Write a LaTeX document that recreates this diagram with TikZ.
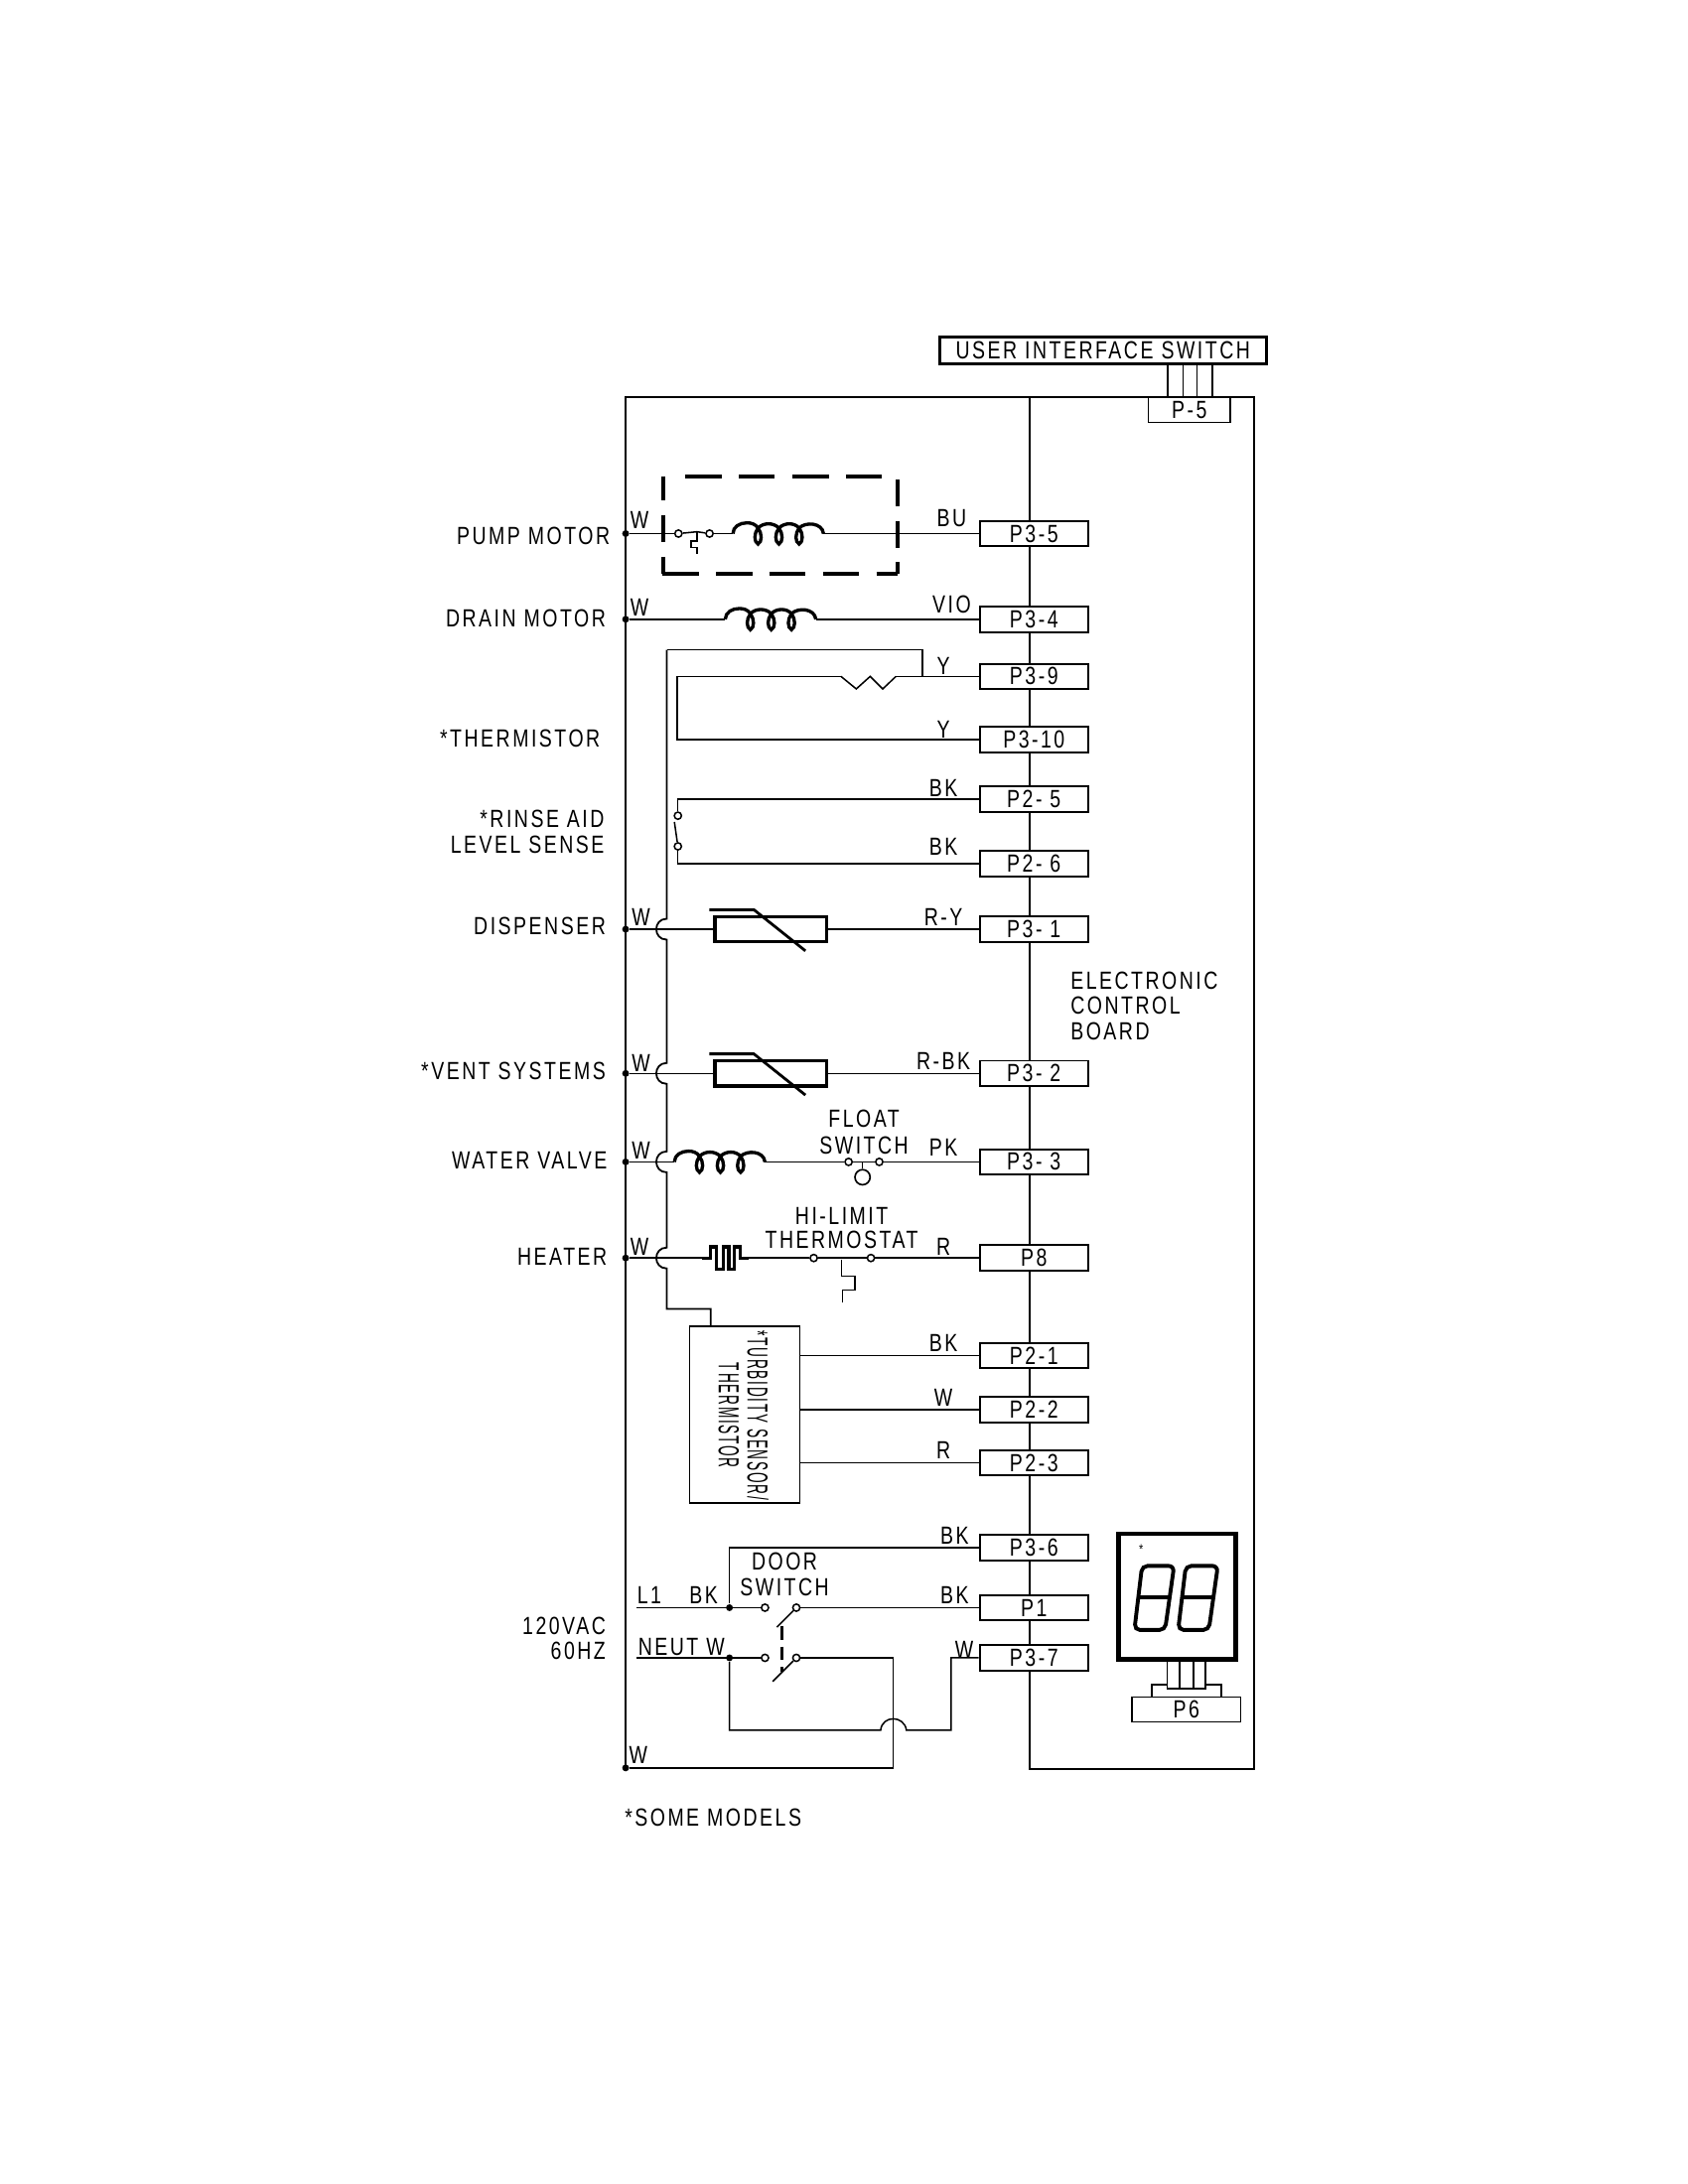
\documentclass[tikz,border=0pt]{standalone}
\usepackage{fontspec}
\setmainfont[FakeStretch=0.78,LetterSpace=10]{Liberation Sans}
\tikzset{
    wire/.style={line width=0.55pt},
    heavy/.style={line width=1.2pt},
    pinbox/.style={draw, fill=white, line width=0.7pt, minimum width=39.4pt, minimum height=9.2pt, inner sep=0pt, font=\fontsize{9}{9}\selectfont},
    lbl/.style={inner sep=0pt, font=\fontsize{9}{9}\selectfont},
    dot/.style={circle, fill, inner sep=0pt, minimum size=2.5pt},
    contact/.style={circle, draw, fill=white, inner sep=0pt, minimum size=2.6pt, line width=0.55pt},
    coil/.pic={
        \draw[heavy] (0,0) .. controls (0,-5) and (5,-7.7) .. (10,-7.7) .. controls (13,-7.7) and (16,-7) .. (18,-4)
            .. controls (15,0) and (15,6) .. (18,7.5) .. controls (21,6) and (21,0) .. (18,-4)
            .. controls (22,-8) and (29,-8) .. (33,-4)
            .. controls (30,0) and (30,6) .. (33,7.5) .. controls (36,6) and (36,0) .. (33,-4)
            .. controls (37,-8) and (44,-8) .. (47.5,-4)
            .. controls (44.5,0) and (44.5,6) .. (47.5,7.5) .. controls (50.5,6) and (50.5,0) .. (47.5,-4)
            .. controls (52,-8.5) and (64,-8) .. (65,0);
    },
    ptc/.pic={
        \draw[line width=1.2pt] (0,-9) rectangle (80,9);
        \draw[line width=1pt] (-4,-14) -- (28,-14) -- (65,15.5);
    },
    segdigit/.pic={
        \draw[line width=1.4pt, rounded corners=2] (6,0) -- (29,0) -- (22.5,46) -- (0.5,46) -- cycle;
        \draw[line width=1.4pt] (3,22.6) -- (26,22.6);
    }
}
\begin{document}
\begin{tikzpicture}[x=0.5052pt, y=-0.5052pt]
    \useasboundingbox (0,0) rectangle (1211.4,1567.7);

    % frame and board
    \draw[wire] (449,1269) -- (449,285) -- (739,285);
    \draw[line width=0.8pt] (739,285) -- (900,285) -- (900,1270) -- (739,1270) -- cycle;

    \node[draw, line width=1pt, minimum width=118.5pt, minimum height=9.6pt, inner sep=0pt, font=\fontsize{9}{9}\selectfont] (ui) at (791.5,251.5) {USER INTERFACE SWITCH};
    \node[draw, fill=white, line width=0.6pt, minimum width=29.8pt, minimum height=9.2pt, inner sep=0pt, font=\fontsize{9}{9}\selectfont] (p5) at (853.5,294) {P-5};
    \foreach \x in {838,849,859,870} \draw[wire] (\x,261) -- (\x,285);

    \foreach \name/\txt/\y in {p35/P3-5/383,p34/P3-4/444.5,p39/P3-9/485.5,p310/P3-10/531,p25/P2- 5/573.5,p26/P2- 6/620,p31/P3- 1/667,p32/P3- 2/770.5,p33/P3- 3/834,p8/P8/903,p21/P2-1/973,p22/P2-2/1012,p23/P2-3/1050,p36/P3-6/1111,p1/P1/1154,p37/P3-7/1190}
        \node[pinbox] (\name) at (742,\y) {\txt};

    \foreach \name/\y in {pump/383,drain/444.5,disp/667,vent/770.5,water/834,heat/903,ret/1269}
        \node[dot] (\name) at (449,\y) {};

    % pump motor
    \foreach \a/\b in {491.5/518,530.5/556,568.5/595,607/633} \draw[line width=1.5pt] (\a,342) -- (\b,342);
    \foreach \a/\b in {475.6/502,514/540,552/578,591/616.5,629/644.5} \draw[line width=1.5pt] (\a,412) -- (\b,412);
    \foreach \a/\b in {342/359,370/389,399.7/412} \draw[line width=1.5pt] (476,\a) -- (476,\b);
    \foreach \a/\b in {344/363.5,374/393,403.5/412} \draw[line width=1.5pt] (644,\a) -- (644,\b);
    \node[contact] (pumpa) at (486.9,383) {};
    \node[contact] (pumpb) at (509.2,383) {};
    \coordinate (pumpc) at (526,383);
    \coordinate (pumpd) at (591,383);
    \draw[wire] (pump) -- (pumpa);
    \draw[wire] (pumpa) -- (500.2,381.7) -- (pumpb);
    \draw[wire] (pumpb) -- (pumpc);
    \draw[wire] (pumpd) -- (p35);
    \pic at (pumpc) {coil};
    \draw[wire] (500.2,381.7) -- (500.2,388.3) -- (495.9,388.3) -- (495.9,393) -- (500.2,393) -- (500.2,397.8);

    % drain motor
    \coordinate (draina) at (520.5,444.5);
    \coordinate (drainb) at (585.5,444.5);
    \draw[wire] (drain) -- (draina);
    \draw[wire] (drainb) -- (p34);
    \pic at (draina) {coil};

    % thermistor
    \coordinate (tha) at (603.5,485.5);
    \coordinate (thb) at (643,485.5);
    \coordinate (thc) at (662,485.5);
    \draw[wire] (tha) -- ++(11,9) -- ++(10,-9) -- ++(9,9) -- (thb);
    \draw[wire] (thb) -- (p39);
    \draw[wire] (tha) -- (486,485.5) -- (486,531) -- (p310);
    \draw[wire] (thc) -- (662,466.5) -- (478.5,466.5);

    % rail
    \draw[line width=0.65pt] (478.5,466.5) -- (478.5,659.5) .. controls (468.5,659.5) and (468.5,674.5) .. (478.5,674.5)
        -- (478.5,763) .. controls (468.5,763) and (468.5,778) .. (478.5,778)
        -- (478.5,826.5) .. controls (468.5,826.5) and (468.5,841.5) .. (478.5,841.5)
        -- (478.5,895.5) .. controls (468.5,895.5) and (468.5,910.5) .. (478.5,910.5)
        -- (478.5,939.5) -- (510,939.5) -- (510,952);

    % rinse aid
    \node[contact] (rinsea) at (486.5,585.5) {};
    \node[contact] (rinseb) at (486.5,607.5) {};
    \draw[wire] (p25) -- (486.5,573.5) -- (rinsea);
    \draw[wire] (484,590) -- (rinseb);
    \draw[wire] (rinseb) -- (486.5,620) -- (p26);

    % dispenser and vent
    \coordinate (dispa) at (513,667);
    \coordinate (venta) at (513,770.5);
    \draw[wire] (disp) -- (dispa);
    \draw[wire] (vent) -- (venta);
    \draw[wire] (593,667) -- (p31);
    \draw[wire] (593,770.5) -- (p32);
    \pic at (dispa) {ptc};
    \pic at (venta) {ptc};

    % water valve
    \coordinate (watera) at (484,834);
    \coordinate (waterb) at (549,834);
    \node[contact] (floata) at (609,834) {};
    \node[contact] (floatb) at (631,834) {};
    \node[circle, draw, line width=0.6pt, inner sep=0pt, minimum size=5.5pt] (floatc) at (619,845) {};
    \draw[wire] (water) -- (watera);
    \draw[wire] (waterb) -- (floata);
    \draw[wire] (floata) -- (floatb);
    \draw[wire] (floatb) -- (p33);
    \draw[wire] (619,834) -- (floatc);
    \pic at (watera) {coil};

    % heater
    \coordinate (heata) at (504,903);
    \coordinate (heatb) at (537,903);
    \node[contact] (hilima) at (584,903) {};
    \node[contact] (hilimb) at (625,903) {};
    \draw[wire] (heat) -- (heata);
    \draw[heavy] (heata) -- (510,903) -- (510,895) -- (514,895) -- (514,911) -- (519,911) -- (519,895) -- (523,895) -- (523,911) -- (527,911) -- (527,895) -- (531,895) -- (531,903) -- (heatb);
    \draw[wire] (heatb) -- (hilima);
    \draw[wire] (hilima) -- (hilimb);
    \draw[wire] (hilimb) -- (p8);
    \draw[wire] (604,904) -- (604,916) -- (613.5,916) -- (613.5,926) -- (604.5,926) -- (604.5,935);

    % turbidity
    \node[draw, line width=0.6pt, minimum width=40pt, minimum height=64.2pt, inner sep=0pt] (turb) at (534.5,1015.5) {};
    \draw[wire] (turb.east |- p21) -- (p21);
    \draw[wire] (turb.east |- p22) -- (p22);
    \draw[wire] (turb.east |- p23) -- (p23);
    \node[inner sep=0pt, rotate=-90, font=\fontsize{10.5}{10.5}\selectfont] (turbt) at (544,1016) {\scalebox{0.6}[1]{*TURBIDITY SENSOR/}};
    \node[inner sep=0pt, rotate=-90, font=\fontsize{10.5}{10.5}\selectfont] (turbu) at (523,1016) {\scalebox{0.6}[1]{THERMISTOR}};

    % door switch
    \node[dot] (linea) at (523.5,1154) {};
    \node[dot] (neuta) at (523.5,1190) {};
    \node[contact] (doora) at (549,1154) {};
    \node[contact] (doorb) at (571.5,1154) {};
    \node[contact] (doorc) at (549,1190) {};
    \node[contact] (doord) at (571.5,1190) {};
    \coordinate (lone) at (457,1154);
    \coordinate (ntwo) at (457,1190);
    \draw[wire] (lone) -- (doora);
    \draw[wire] (ntwo) -- (doorc);
    \draw[wire] (linea) -- (523.5,1111) -- (p36);
    \draw[wire] (doorb) -- (p1);
    \draw[wire] (doorb) -- ++(-14,14);
    \draw[wire] (doord) -- ++(-17,17);
    \draw[line width=1.2pt, dash pattern=on 5pt off 2.5pt] (561,1167) -- (561,1200);
    \draw[wire] (neuta) -- (523.5,1242) -- (632,1242) .. controls (633,1231) and (649,1231) .. (650.5,1242) -- (682.5,1242) -- (682.5,1190) -- (p37);
    \draw[wire] (doord) -- (641,1190) -- (641,1269) -- (ret);

    % display
    \node[draw, line width=1.7pt, minimum width=42.5pt, minimum height=45.5pt, inner sep=0pt] (disptop) at (844.7,1146) {};
    \node[inner sep=0pt, font=\fontsize{5}{5}\selectfont] (dispstar) at (819,1112) {*};
    \pic at (813.6,1124) {segdigit};
    \pic at (845,1124) {segdigit};
    \node[draw, fill=white, line width=0.6pt, minimum width=39.4pt, minimum height=9pt, inner sep=0pt, font=\fontsize{9}{9}\selectfont] (p6) at (851.4,1227) {P6};
    \draw[line width=0.8pt] (826.6,1218) -- (826.6,1209) -- (876.6,1209) -- (876.6,1218);
    \draw[fill=white, wire] (837.8,1192) rectangle (865,1212);
    \foreach \x in {846.8,856.3} \draw[line width=0.8pt] (\x,1192) -- (\x,1212);

    % left labels
    \foreach \y/\txt/\x in {385/PUMP MOTOR/438,444/DRAIN MOTOR/435,530/*THERMISTOR/431,588/*RINSE AID/434,606/LEVEL SENSE/434,665/DISPENSER/435,769/*VENT SYSTEMS/435,833/WATER VALVE/436,902/HEATER/436,1167/120VAC/435,1185/60HZ/435}
        \node[lbl, anchor=east] at (\x,\y) {\txt};

    % wire colours
    \foreach \x/\y/\txt in {459/373/W,459/436/W,460/658/W,460/763/W,460/826/W,459/895/W,458/1260/W,683/372/BU,683/434/VIO,677/478/Y,677/524/Y,677/566/BK,677/608/BK,677/658/R-Y,677/762/R-BK,677/824/PK,677/895/R,677/964/BK,677/1003/W,677/1041/R,685/1102/BK,685/1145/BK,692/1184/W,466/1145/L1,505/1145/BK,489/1182/NEUT W,563/1121/DOOR,563/1139/SWITCH,620/803/FLOAT,620/822/SWITCH,604/873/HI-LIMIT,604/890/THERMOSTAT}
        \node[lbl] at (\x,\y) {\txt};

    \foreach \y/\txt in {704/ELECTRONIC,722/CONTROL,740/BOARD}
        \node[lbl, anchor=west] at (768,\y) {\txt};
    \node[lbl, anchor=west] (note) at (448,1305) {*SOME MODELS};
\end{tikzpicture}
\end{document}
